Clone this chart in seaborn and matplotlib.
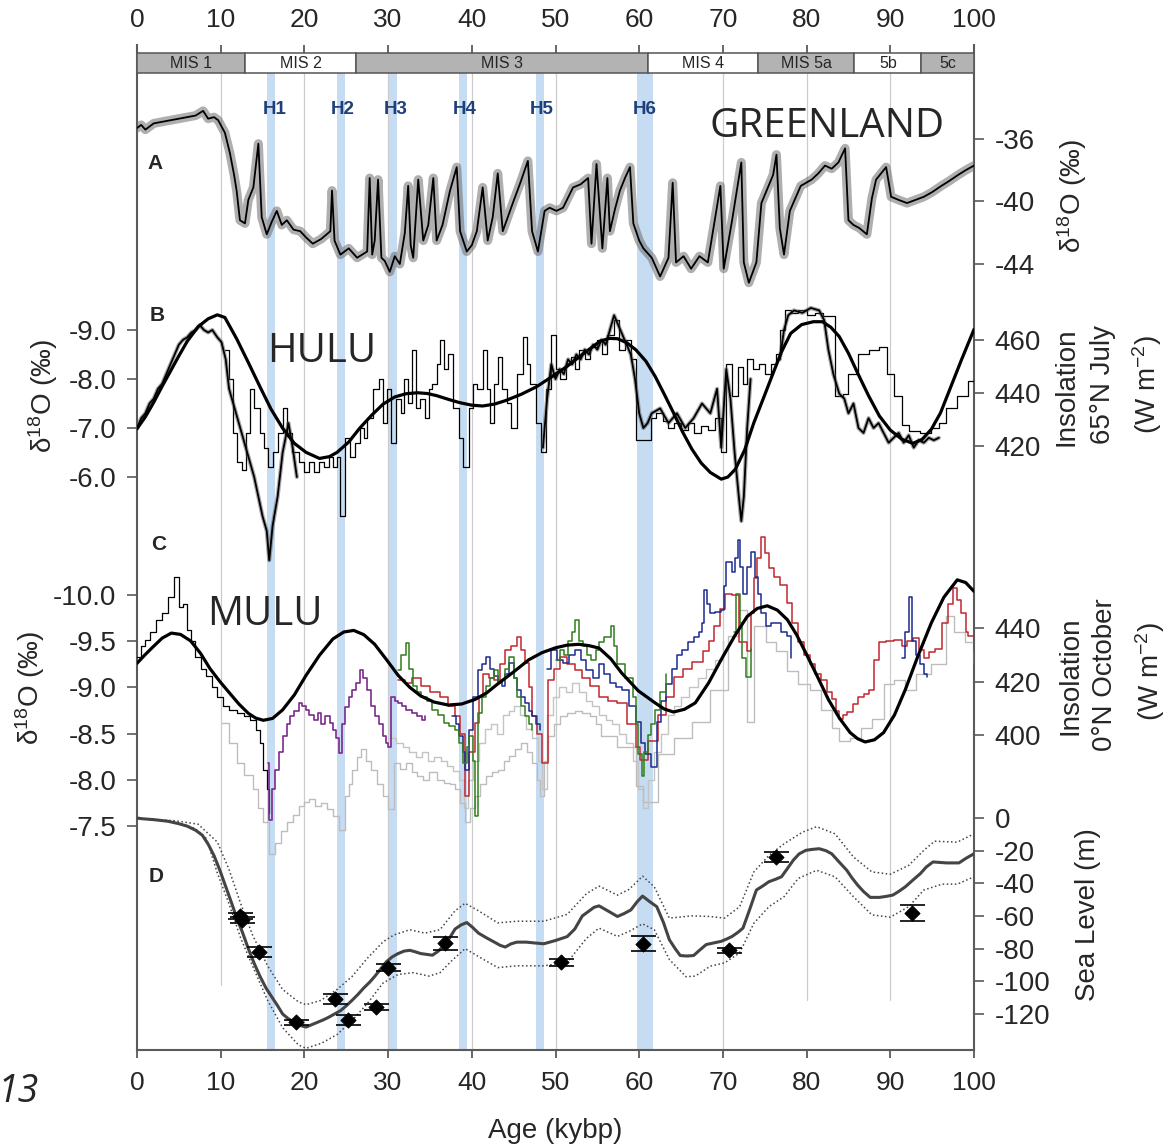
import numpy as np
import matplotlib
matplotlib.use("Agg")
import matplotlib.pyplot as plt
import seaborn as sns

sns.set_style("white")
plt.rcParams['font.family'] = ['Liberation Sans', 'DejaVu Sans']
plt.rcParams['mathtext.default'] = 'regular'

# ---------------- data ----------------
MIS_LABELS = ["MIS 1", "MIS 2", "MIS 3", "MIS 4", "MIS 5a", "5b", "5c"]
MIS_BOUNDS = [0, 12.9, 26.2, 61.0, 74.2, 85.7, 93.7, 100]
MIS_SHADED = [True, False, True, False, True, False, True]

H_LABELS = ["H1", "H2", "H3", "H4", "H5", "H6"]
H_START = [15.5, 23.9, 30.1, 38.5, 47.7, 59.7]
H_END = [16.5, 24.9, 31.1, 39.4, 48.6, 61.6]
H_LABEL_AGE = [16.5, 24.6, 30.9, 39.2, 48.3, 60.6]

AGE_TICKS = list(range(0, 101, 10))

GREENLAND = [(0,-35.3),(0.5,-35.1),(1,-35.4),(2,-35.0),(3,-34.9),(4,-34.8),(5,-34.7),(6,-34.6),(7,-34.5),(7.9,-34.2),
 (8.5,-34.7),(9.2,-34.6),(9.7,-34.8),(10.5,-35.6),(11.1,-36.9),(11.6,-38.3),(11.9,-39.3),(12.3,-41.2),(12.9,-41.4),
 (13.3,-39.9),(13.9,-39.1),(14.5,-36.3),(14.9,-41.0),(15.5,-42.1),(16.1,-41.3),(16.7,-40.6),(17.3,-41.5),(17.9,-41.2),
 (18.7,-41.8),(19.5,-41.9),(20.2,-42.3),(21.0,-42.7),(22.0,-42.4),(23.1,-41.9),(23.3,-39.3),(23.6,-42.5),(24.3,-43.4),
 (25.3,-43.0),(26.3,-43.6),(27.5,-43.2),(27.8,-38.5),(28.1,-43.4),(28.4,-42.5),(28.8,-38.6),(29.2,-43.6),(29.6,-43.8),
 (30.2,-44.5),(30.8,-43.5),(31.4,-44.0),(32.0,-42.0),(32.4,-39.0),(32.7,-42.8),(33.0,-43.6),(33.6,-38.6),(34.2,-42.5),
 (34.8,-41.5),(35.4,-38.5),(35.8,-42.5),(36.5,-41.5),(37.4,-39.3),(38.2,-37.8),(38.6,-41.9),(39.4,-43.2),(40.0,-42.8),
 (40.6,-41.9),(41.3,-39.1),(41.9,-42.5),(42.5,-41.0),(43.1,-38.2),(43.7,-41.9),(44.3,-41.0),(44.9,-40.1),(45.8,-38.8),
 (46.7,-37.4),(47.2,-41.9),(47.9,-43.2),(48.7,-40.6),(49.3,-40.4),(50.1,-40.6),(50.9,-40.4),(52.1,-39.1),(53.0,-38.9),
 (53.9,-38.5),(54.3,-42.7),(54.9,-37.6),(55.6,-43.0),(56.2,-38.5),(56.5,-41.9),(57.1,-40.5),(57.7,-39.3),(58.3,-38.5),
 (58.9,-37.8),(59.3,-41.4),(60.0,-42.5),(60.5,-43.0),(61.5,-43.6),(62.5,-44.8),(63.5,-43.6),(64.0,-38.8),(64.4,-43.9),
 (65.3,-43.5),(66.2,-44.3),(67.2,-43.5),(68.2,-43.9),(69.7,-39.0),(70.1,-44.3),(71.1,-41.2),(72.2,-37.5),(72.5,-43.9),
 (73.1,-45.2),(74.0,-43.9),(74.6,-40.1),(75.3,-39.2),(76.0,-38.3),(76.4,-37.0),(76.8,-41.7),(77.3,-43.4),(78.0,-40.6),
 (79.3,-39.0),(80.6,-38.6),(81.4,-38.2),(82.2,-37.7),(83.0,-37.9),(83.8,-37.5),(84.6,-36.6),(85.0,-41.2),(85.6,-41.5),
 (86.3,-41.7),(87.2,-42.1),(87.8,-39.8),(88.3,-38.6),(89.5,-37.8),(90.1,-39.7),(91.0,-39.9),(92.0,-40.1),(93.0,-39.9),
 (94.0,-39.7),(95.0,-39.4),(96.1,-39.0),(97.0,-38.7),(98.1,-38.3),(99.0,-38.0),(100,-37.7)]

HULU_THICK_1 = [(0,-7.0),(0.5,-7.2),(1,-7.3),(1.5,-7.5),(2,-7.6),(2.5,-7.8),(3,-7.9),(3.5,-8.1),(4,-8.3),(4.5,-8.5),
 (5,-8.7),(5.5,-8.8),(6,-8.85),(6.5,-8.95),(7,-9.0),(7.5,-9.1),(8,-9.0),(8.5,-8.95),(9,-9.0),(9.6,-8.85),(10.1,-8.75),
 (10.6,-8.4),(11,-7.8),(12,-7.2),(13,-6.6),(14,-6.0),(15,-5.2),(15.5,-4.9),(15.8,-4.3),(16.2,-5.0),(16.8,-5.6),
 (17.4,-6.5),(18.1,-7.1),(18.6,-6.6),(19.1,-6.0)]
HULU_THICK_2 = [(48.5,-6.6),(49,-7.6),(49.5,-8.3),(50,-8.0),(50.5,-8.2),(51,-8.1),(51.5,-8.4),(52,-8.3),(52.5,-8.5),
 (53,-8.4),(53.5,-8.6),(54,-8.5),(54.5,-8.7),(55,-8.6),(55.5,-8.8),(56,-8.7),(56.5,-9.0),(57,-9.3),(57.5,-9.1),
 (58,-8.9),(58.5,-8.7),(59,-8.5),(59.5,-8.0),(60,-7.3),(60.5,-7.0),(61,-7.1),(61.5,-7.3),(62.5,-7.4),(63.5,-7.1),
 (64.5,-7.3),(65.5,-7.0),(66.5,-7.2),(67.5,-7.5),(68.5,-7.3),(69.3,-7.8),(69.8,-6.6),(70.4,-8.2),(70.9,-7.6),
 (71.4,-6.5),(71.9,-5.6),(72.2,-5.1),(72.5,-5.6),(72.9,-7.0),(73.3,-8.0)]
HULU_THICK_3 = [(76.8,-8.4),(77.3,-9.0),(77.8,-9.3),(78.5,-9.4),(79.5,-9.35),(80.5,-9.45),(81.5,-9.4),(82.1,-9.2),
 (82.6,-8.6),(83.2,-8.1),(83.9,-7.7),(84.5,-7.6),(85,-7.3),(85.6,-7.5),(86.2,-7.0),(86.8,-6.9),(87.4,-7.2),(88,-7.0),
 (88.6,-7.1),(89.2,-6.9),(89.8,-6.7),(90.4,-6.8),(91,-6.9),(91.6,-6.7),(92.2,-6.85),(92.8,-6.6),(93.4,-6.75),
 (94,-6.7),(94.6,-6.8),(95.2,-6.75),(95.8,-6.8)]
HULU_THIN = [(10.5,-8.6),(11.0,-8.0),(11.5,-6.9),(12.0,-6.3),(12.6,-6.15),(13.0,-6.9),(13.5,-7.8),(14.0,-7.4),
 (14.7,-6.9),(15.2,-6.6),(15.7,-6.2),(16.3,-6.5),(16.8,-6.9),(17.4,-7.4),(17.9,-6.9),(18.5,-6.5),(19.3,-6.3),
 (19.9,-6.1),(20.5,-6.3),(21.1,-6.1),(21.7,-6.3),(22.3,-6.2),(22.9,-6.4),(23.4,-6.2),(23.9,-6.4),(24.3,-5.2),
 (24.8,-6.8),(25.4,-6.4),(26.0,-6.7),(26.6,-7.0),(27.1,-6.8),(27.5,-7.2),(28.2,-7.8),(28.9,-8.0),(29.4,-7.1),
 (29.9,-7.8),(30.3,-6.7),(31.0,-7.6),(31.5,-7.3),(31.9,-8.0),(32.4,-7.5),(32.8,-8.6),(33.3,-7.4),(33.8,-7.6),
 (34.4,-7.2),(34.9,-7.8),(35.3,-7.9),(35.8,-8.3),(36.2,-8.8),(36.7,-8.2),(37.2,-8.5),(37.8,-7.4),(38.5,-6.8),
 (39.0,-6.2),(39.7,-7.4),(40.1,-7.9),(40.6,-7.8),(41.3,-8.6),(41.8,-7.8),(42.2,-7.1),(42.7,-7.9),(43.1,-8.45),
 (43.6,-7.8),(44.2,-7.5),(44.7,-7.0),(45.4,-8.1),(46.1,-8.85),(46.6,-8.3),(47.0,-7.9),(47.7,-7.1),(48.3,-6.5),
 (48.9,-7.8),(49.5,-8.9),(50.0,-8.2),(50.5,-8.0),(51.2,-8.3),(51.8,-8.45),(52.3,-8.2),(52.8,-8.6),(53.5,-8.4),
 (54.1,-8.65),(55.0,-8.8),(55.6,-8.5),(56.2,-8.9),(57.0,-9.2),(57.6,-8.6),(58.3,-8.8),(59.0,-8.4),(59.6,-6.75),
 (61.4,-7.2),(62.0,-7.3),(62.8,-7.15),(63.5,-7.0),(64.2,-7.1),(65.0,-6.95),(65.8,-7.1),(66.6,-6.9),(67.4,-7.05),
 (68.2,-6.95),(69.0,-7.2),(69.8,-6.5),(70.4,-8.3),(71.1,-7.65),(71.8,-8.25),(72.4,-7.9),(72.9,-8.4),(73.6,-8.2),
 (74.3,-8.3),(75.0,-8.1),(75.7,-8.3),(76.4,-8.5),(76.8,-9.0),(77.4,-9.4),(78.1,-9.35),(79.0,-9.4),(80.0,-9.3),
 (81.0,-9.35),(82.0,-9.28),(83.4,-7.66),(84.3,-7.7),(85.0,-8.1),(86.1,-8.5),(87.4,-8.6),(88.7,-8.66),(89.6,-8.1),
 (90.5,-7.66),(91.4,-7.07),(92.2,-6.94),(93.5,-6.9),(94.9,-7.0),(95.8,-7.1),(96.7,-7.4),(98.0,-7.66),(99.3,-7.95),
 (100.0,-7.95)]

INSOL_65N_JULY = [(0,426.5),(1,431),(2,436.5),(3,442.5),(4.1,448.8),(5,454),(6,459.5),(7.3,465),(8.5,468),(9.6,469.5),
 (10.5,468.5),(11.9,460.5),(13.3,451.5),(14.7,442.3),(16,434),(17.4,426.7),(18.8,421),(20.2,417.6),(21.8,415.3),
 (23,416),(23.9,417.6),(25.3,421.5),(26.6,426.7),(28,431.5),(29.4,435.8),(30.8,438.5),(32.1,439.7),(33.5,440.1),
 (34.7,439.8),(35.8,439),(37.2,437.6),(38.5,436.4),(40,435.4),(41.3,435.1),(42.7,435.8),(44,437.1),(45.9,439.5),
 (47.7,442.3),(49.5,446),(51.4,450.1),(53.4,455),(55.3,459.5),(56.4,460.6),(57.4,460.5),(58.5,459),(59.6,456.3),
 (60.8,452),(61.9,446.3),(63,439.5),(64.1,432.5),(65.2,425.2),(66.3,418.8),(67.4,413.6),(68.5,410),(69.8,407.5),
 (70.6,408.3),(71.5,411.3),(72.6,418.5),(73.7,428.8),(74.9,438.5),(76,447.5),(77,455.5),(78.1,462.5),(79.4,465.8),
 (80.8,466.9),(81.9,466.9),(82.9,464.8),(83.9,461.3),(85,455),(86.1,447.5),(87.4,439),(88.7,431.3),(90,426),
 (91.4,422.5),(92.7,421),(93.8,422.5),(94.9,426.3),(96,432.5),(97.1,441.3),(98.5,452.5),(100,464)]

MULU_BLACK = [(0,-9.33),(0.5,-9.45),(0.9,-9.51),(1.5,-9.6),(2.3,-9.73),(3.0,-9.8),(3.7,-9.98),(4.4,-10.2),(5.0,-9.87),
 (5.5,-9.9),(6.0,-9.62),(6.5,-9.5),(6.9,-9.33),(7.6,-9.2),(8.3,-9.12),(9.0,-9.0),(9.6,-8.9),(10.3,-8.8),(11.0,-8.76),
 (11.9,-8.72),(12.8,-8.69),(13.5,-8.65),(14.2,-8.54),(14.7,-8.4),(15.1,-8.11),(15.5,-7.9),(15.8,-7.64)]
MULU_PURPLE = [(15.6,-8.18),(15.8,-7.57),(16.1,-7.9),(16.5,-8.11),(17.0,-8.3),(17.4,-8.47),(17.9,-8.6),(18.3,-8.69),
 (18.8,-8.75),(19.3,-8.83),(19.7,-8.8),(20.2,-8.76),(20.6,-8.7),(21.1,-8.65),(21.6,-8.72),(22.0,-8.6),(22.5,-8.69),
 (23.0,-8.62),(23.4,-8.54),(23.8,-8.45),(24.1,-8.29),(24.5,-8.6),(24.8,-8.79),(25.3,-8.9),(25.7,-8.97),(26.2,-9.05),
 (26.6,-9.19),(27.0,-9.1),(27.5,-8.97),(28.0,-8.8),(28.4,-8.69),(28.9,-8.6),(29.4,-8.47),(29.8,-8.4),(30.0,-8.36),
 (30.3,-8.9),(30.8,-8.85),(31.2,-8.83),(31.7,-8.8),(32.1,-8.76),(32.8,-8.72),(33.5,-8.69),(34.0,-8.65),(34.4,-8.69)]
MULU_GREEN_1 = [(31.2,-9.19),(31.6,-9.35),(32.1,-9.48),(32.5,-9.2),(33.0,-9.01),(33.5,-8.95),(33.9,-8.9),(34.6,-8.85),
 (35.3,-8.76),(36.0,-8.7),(36.7,-8.62),(37.3,-8.58),(38.0,-8.54),(38.5,-8.4),(39.0,-8.18),(39.4,-8.35),(39.7,-8.47),
 (40.1,-8.2),(40.4,-7.61),(40.8,-8.72),(41.2,-8.9),(41.7,-9.01),(42.2,-9.1),(42.7,-9.19),(43.1,-9.05),(43.6,-9.08),
 (44.0,-9.2),(44.5,-9.33),(45.0,-9.1),(45.4,-8.9),(45.9,-8.8),(46.3,-8.69),(46.8,-8.6),(47.2,-8.54)]
MULU_GREEN_2 = [(50.0,-9.3),(50.5,-9.4),(51.0,-9.35),(51.5,-9.5),(52.0,-9.6),(52.3,-9.73),(52.8,-9.5),(53.3,-9.45),
 (53.8,-9.35),(54.3,-9.3),(54.8,-9.4),(55.2,-9.49),(55.8,-9.55),(56.6,-9.66),(57.0,-9.45),(57.4,-9.25),(58.3,-9.1),
 (59.2,-8.9),(59.6,-8.6),(59.9,-8.28),(60.3,-8.04),(60.6,-8.3),(61.0,-8.49),(61.4,-8.6),(61.9,-8.76),(62.5,-8.95),
 (63.2,-9.15)]
MULU_GREEN_3 = [(71.3,-9.6),(71.6,-10.01),(72.0,-9.7),(72.3,-9.32),(72.8,-9.11),(73.3,-9.42)]
MULU_BLUE_1 = [(37.6,-8.69),(38.1,-8.6),(38.5,-8.47),(38.9,-8.3),(39.2,-8.11),(39.7,-8.54),(40.2,-8.9),(40.8,-9.19),
 (41.2,-9.25),(41.7,-9.33),(42.2,-9.2),(42.7,-9.12),(43.1,-9.05),(43.6,-9.01),(44.0,-9.15),(44.5,-9.26),(45.0,-9.1),
 (45.4,-8.97),(45.9,-8.9),(46.3,-8.83),(46.8,-8.75),(47.2,-8.69),(47.7,-8.6),(48.2,-8.54)]
MULU_BLUE_2 = [(49.0,-9.2),(49.5,-9.41),(50.2,-9.3),(50.9,-9.26),(51.6,-9.35),(52.3,-9.41),(53.0,-9.3),(53.7,-9.19),
 (54.5,-9.1),(55.2,-9.25),(55.8,-9.15),(56.5,-9.05),(57.2,-9.0),(57.9,-8.97),(58.8,-8.8),(59.6,-8.63),(60.2,-8.4),
 (60.7,-8.28),(61.4,-8.14),(62.1,-8.63),(62.6,-8.85),(63.2,-9.04),(63.9,-9.2),(64.5,-9.35),(65.1,-9.4),(65.8,-9.49),
 (66.5,-9.55),(67.1,-9.6),(67.5,-9.7),(67.8,-10.05),(68.1,-9.9),(68.5,-9.8),(69.1,-9.82),(69.8,-9.84),(70.1,-10.1),
 (70.4,-10.36),(71.1,-10.25),(71.5,-10.4),(71.8,-10.6),(72.1,-10.3),(72.4,-10.01),(72.9,-10.3),(73.3,-10.46),
 (73.8,-10.2),(74.2,-10.01),(74.6,-9.8),(75.1,-9.66),(75.7,-9.7),(76.4,-9.7),(77.0,-9.6),(77.7,-9.56),(78.1,-9.32)]
MULU_BLUE_3 = [(91.4,-9.32),(91.8,-9.6),(92.2,-9.98),(92.6,-9.5),(93.1,-9.35),(93.5,-9.25),(94.0,-9.15),(94.4,-9.11)]
MULU_RED = [(31.2,-9.08),(32.0,-9.05),(32.8,-9.1),(33.9,-9.01),(35.0,-8.95),(36.2,-8.9),(37.2,-8.8),(38.0,-8.69),
 (38.6,-8.5),(39.2,-7.82),(39.7,-8.3),(40.4,-8.62),(40.9,-8.9),(41.3,-9.15),(42.0,-9.1),(42.7,-9.08),(43.4,-9.25),
 (44.0,-9.41),(44.7,-9.45),(45.4,-9.55),(45.9,-9.4),(46.3,-9.26),(46.8,-9.0),(47.2,-8.69),(47.8,-8.5),(48.4,-8.18),
 (49.1,-9.08),(49.8,-9.2),(50.5,-9.33),(51.4,-9.25),(52.3,-9.19),(53.2,-9.1),(54.1,-9.01),(55.2,-8.9),(56.3,-8.85),
 (57.4,-8.83),(58.5,-8.6),(59.6,-8.35),(60.1,-8.21),(61.0,-8.42),(62.3,-8.7),(63.2,-8.9),(64.1,-9.11),(65.2,-9.2),
 (66.3,-9.28),(67.6,-9.39),(68.3,-9.5),(68.9,-9.66),(69.6,-9.85),(70.2,-10.01),(71.1,-10.0),(71.9,-9.49),(72.9,-9.39),
 (73.3,-9.8),(73.7,-10.18),(74.1,-10.4),(74.5,-10.63),(75.0,-10.45),(75.5,-10.29),(76.1,-10.2),(76.8,-10.11),
 (77.7,-9.91),(78.3,-9.7),(79.0,-9.49),(79.7,-9.35),(80.4,-9.25),(81.0,-9.15),(81.7,-9.08),(82.4,-8.95),(83.0,-8.87),
 (83.5,-8.75),(83.9,-8.66),(84.4,-8.7),(84.8,-8.73),(85.5,-8.82),(86.1,-8.9),(86.8,-8.93),(87.4,-8.97),(88.0,-9.3),
 (88.7,-9.49),(89.5,-9.5),(90.5,-9.51),(91.4,-9.45),(92.0,-9.5),(92.7,-9.53),(93.4,-9.4),(94.0,-9.32),(94.6,-9.38),
 (95.3,-9.42),(96.2,-9.7),(96.9,-9.9),(97.5,-10.08),(98.0,-9.95),(98.4,-9.8),(99.0,-9.6),(99.3,-9.56),(100.0,-9.39)]
MULU_GRAY_1 = [(10.1,-8.62),(11.0,-8.4),(11.9,-8.18),(12.8,-8.05),(13.8,-7.9),(14.5,-7.7),(15.1,-7.54),(15.8,-7.2),
 (16.5,-7.32),(17.2,-7.45),(17.9,-7.54),(18.6,-7.62),(19.3,-7.72),(20.0,-7.76),(20.6,-7.79),(21.3,-7.72),(22.0,-7.75),
 (22.7,-7.68),(23.4,-7.61),(24.1,-7.46),(24.8,-7.82),(25.3,-7.95),(25.7,-8.11),(26.3,-8.25),(26.8,-8.33),(27.4,-8.2),
 (28.0,-8.11),(28.7,-7.95),(29.4,-7.82),(30.0,-7.68),(30.7,-8.18),(31.4,-8.12),(32.1,-8.18),(32.8,-8.08),(33.5,-8.04),
 (34.2,-8.0),(34.9,-8.08),(35.8,-8.0),(36.7,-7.97),(37.4,-7.95),(38.0,-7.9),(38.6,-7.75),(39.2,-7.54),(39.8,-7.7),
 (40.4,-7.82),(41.0,-7.95),(41.7,-8.04),(42.4,-8.08),(43.1,-8.11),(43.8,-8.2),(44.5,-8.26),(45.2,-8.33),(45.9,-8.4),
 (46.6,-8.3),(47.2,-8.18),(47.8,-8.0),(48.2,-7.82),(48.6,-8.2),(49.1,-8.47),(49.8,-8.6),(50.5,-8.69),(51.4,-8.72),
 (52.3,-8.75),(53.2,-8.72),(54.1,-8.69),(54.8,-8.6),(55.4,-8.47),(57.4,-8.35),(59.6,-7.93),(60.5,-7.76),(62.3,-8.28),
 (64.1,-8.45),(66.3,-8.63),(68.5,-8.97),(70.6,-9.56),(71.9,-9.84),(72.9,-8.63),(73.7,-9.66),(75.1,-9.49),(76.4,-9.39),
 (77.7,-9.18),(79.0,-9.04),(80.4,-8.97),(81.7,-8.76),(83.0,-8.56),(83.9,-8.42),(85.2,-8.45),(86.5,-8.56),(87.8,-8.66),
 (89.2,-9.04),(90.5,-9.08),(91.8,-8.97),(93.1,-9.15),(94.9,-9.25),(96.7,-9.77),(97.6,-9.6),(98.9,-9.49),(100,-9.25)]
MULU_GRAY_2 = [(30.3,-8.45),(31.0,-8.4),(31.8,-8.35),(32.5,-8.3),(33.3,-8.25),(34.0,-8.3),(34.8,-8.2),(35.5,-8.25),
 (36.3,-8.2),(37.0,-8.15),(37.8,-8.1),(38.5,-8.0),(39.1,-7.7),(39.6,-8.0),(40.2,-8.2),(40.9,-8.4),(41.6,-8.55),
 (42.3,-8.6),(43.0,-8.5),(43.7,-8.7),(44.4,-8.75),(45.1,-8.8),(45.8,-8.7),(46.5,-8.55),(47.2,-8.45),(47.9,-8.2),
 (48.4,-7.9),(49.0,-8.7),(49.7,-8.9),(50.4,-9.0),(51.2,-8.95),(52.0,-9.05),(52.8,-8.95),(53.6,-8.85),(54.4,-8.8),
 (55.2,-8.7),(56.0,-8.65),(56.8,-8.6),(57.6,-8.5),(58.4,-8.4),(59.2,-8.2),(59.8,-7.9),(60.4,-7.7),(61.0,-8.0),
 (61.8,-8.3),(62.6,-8.5),(63.4,-8.7),(64.2,-8.8),(65.0,-8.9),(66.0,-9.0),(67.0,-9.1),(68.0,-9.2),(69.0,-9.3),(70.0,-9.5)]

INSOL_0N_OCT = [(0,426.8),(0.9,429.8),(1.8,432.6),(3,436.2),(4.1,438.1),(5.2,437.6),(6.4,435.2),(7.6,430.5),
 (8.7,424.9),(9.9,420),(11,415.9),(12.2,411.5),(13.3,408.1),(14.2,406.3),(15.1,405.5),(16.2,406.2),(17.4,409.4),
 (18.8,415),(20.2,422.3),(21.8,429.8),(23.4,435.9),(24.7,438.5),(25.9,439.1),(27.1,437.5),(28.4,433.9),(29.8,428.2),
 (31.2,422.3),(32.6,417.8),(33.9,414.6),(35.5,412.3),(37.2,411.2),(38.8,411.6),(40.4,413.3),(41.8,415.8),(43.1,419.1),
 (45,423.6),(46.8,428.1),(48.4,430.8),(50,432.6),(51.4,433.6),(52.8,433.9),(54,433.4),(55.2,432.5),(56.6,428.5),
 (57.9,423.2),(59.9,416.5),(61.9,412),(63,409.7),(64.1,408.6),(65.4,409.6),(66.7,412),(68.3,419.5),(69.8,428.2),
 (71.4,437),(72.9,444.3),(74.1,447.3),(75.3,448.3),(76.5,446.7),(77.7,443.1),(78.8,437.5),(79.9,430.7),(81.3,421.8),
 (82.6,413.3),(83.9,406.4),(85.2,400.9),(86.1,398.6),(87,397.4),(88.1,398.2),(89.2,400.9),(90.5,407.5),(91.8,417),
 (93.3,429.5),(94.9,441.9),(96.4,451.5),(98,458),(99,457),(100,453.7)]

SEA_LEVEL = [(0,0),(0.5,-0.4),(2,-1),(3.7,-2),(5,-3.5),(6,-5),(7,-7.5),(7.8,-10.5),(8.5,-16),(9.2,-23),(9.9,-32),
 (10.6,-42),(11.3,-52),(11.9,-61),(12.6,-70),(13.3,-80),(14.0,-89),(14.7,-97),(15.4,-104),(16.1,-109.5),(16.8,-115),
 (17.4,-120),(18.1,-123),(18.8,-125),(19.5,-127),(20.2,-128),(20.9,-126.5),(21.6,-125),(22.3,-123.5),(22.9,-122),
 (23.6,-120),(24.3,-118),(25.0,-115),(25.7,-111.6),(26.4,-108),(27.1,-104),(27.8,-100.5),(28.4,-97),(29.1,-92.5),
 (29.8,-88),(30.5,-85),(31.2,-83),(31.9,-81.5),(32.6,-81),(33.3,-82),(33.9,-83),(34.6,-83.5),(35.3,-84),(36.0,-81.5),
 (36.7,-78),(37.4,-73),(38.0,-68),(38.7,-65.5),(39.4,-64),(40.1,-67),(40.8,-70.5),(41.8,-73.5),(42.7,-76),(43.4,-78),
 (44.0,-79),(44.7,-77),(45.4,-76),(46.5,-76),(47.5,-76.5),(48.6,-77),(50.0,-75),(51.4,-72.6),(52.3,-68),(53.2,-60),
 (54.6,-54.7),(55.2,-53.8),(56.3,-57),(57.4,-60.3),(58.2,-58.5),(59.0,-56.3),(59.8,-51),(60.4,-47.8),(61.2,-51),
 (62.1,-54.3),(62.9,-64),(63.6,-74.5),(64.3,-80),(64.9,-84.2),(65.7,-84.5),(66.5,-84.2),(67.2,-81),(68.0,-77.5),
 (68.9,-76.5),(69.8,-75.5),(70.5,-74),(71.1,-72.5),(71.8,-70),(72.4,-67.4),(73.2,-56),(74.0,-44.1),(74.8,-41.5),
 (75.5,-39),(76.3,-37.5),(77.0,-36),(77.7,-31),(78.4,-25.9),(79.1,-22),(79.9,-19.8),(80.7,-19.2),(81.5,-18.8),
 (82.3,-20),(83.0,-21.9),(83.9,-27),(84.8,-32),(85.4,-36.5),(86.1,-41.1),(86.8,-45),(87.6,-48.6),(88.7,-48.6),
 (89.5,-48),(90.3,-47.2),(91.0,-45),(91.8,-42.1),(92.7,-38),(93.6,-34),(94.3,-30),(95.1,-26.9),(96.7,-27.5),
 (98.2,-27.5),(99.1,-24.5),(100,-21.9)]
SEA_LEVEL_UPPER = [(0,0),(0.5,-0.4),(4.6,-1.7),(7.3,-3.8),(9.6,-14.7),(11,-31.6),(12.4,-52.6),(13.8,-71.6),(15.6,-90.5),
 (17.4,-105),(19.3,-112.6),(20.2,-114.3),(22,-111.6),(23.9,-105),(25.7,-97),(27.5,-86),(29.4,-75.8),(30.7,-71.6),
 (32.6,-68.4),(34.4,-70.5),(36.2,-68.4),(38,-56.8),(39.2,-52.2),(40.8,-56.8),(43.1,-64.2),(45.4,-63.2),(48.6,-63.2),
 (51.4,-59),(53.7,-46.3),(55.2,-41.7),(57.4,-47.2),(58.8,-43.7),(60.4,-35.6),(61.8,-42.1),(63.6,-61.3),(66.3,-59.9),
 (68.5,-60.3),(70.2,-61.3),(72,-54.3),(73.7,-33),(75.5,-22.9),(77.3,-15.8),(79.5,-8.7),(81.2,-5.3),(83.4,-9.7),
 (85.6,-23.9),(87.8,-33),(90,-34.4),(92.2,-29),(94,-19.8),(95.3,-14.2),(98,-14.8),(100,-9.7)]
SEA_LEVEL_LOWER = [(0,0),(0.5,-0.4),(4.6,-2.5),(6.9,-6.3),(8.3,-12.6),(9.6,-33.7),(11,-52.6),(12.4,-73.7),(13.8,-90.5),
 (15.6,-111.6),(17.4,-128.4),(19.3,-139),(20.2,-141),(22,-138),(23.9,-132.6),(25.7,-124),(27.5,-113.7),(29.4,-101),
 (31.2,-95.8),(33,-94.7),(34.9,-96.8),(36.2,-94.7),(37.6,-87.4),(39.2,-80),(41.3,-86.3),(43.1,-91.6),(45.4,-90.5),
 (48.6,-90.5),(51.4,-88.4),(53.7,-73.7),(55.2,-67.4),(57.4,-72.5),(58.8,-69.4),(60.4,-64.8),(61.8,-68.4),(63.6,-86.6),
 (65.6,-97.2),(66.7,-96.8),(68.5,-90.7),(70.2,-88.7),(72,-82.6),(73.7,-64.4),(75.5,-54.3),(77.3,-48.2),(79,-37),
 (81.2,-32),(83.4,-36),(85.6,-48.2),(87.8,-59.3),(90,-60.7),(92.2,-54.3),(94,-44.1),(96.2,-40.5),(98,-40.5),(100,-36)]

SL_POINT_AGE = [12.3, 12.5, 14.6, 19.0, 23.6, 25.2, 28.5, 30.0, 36.8, 50.6, 60.5, 70.7, 76.3, 92.6]
SL_POINT_LEVEL = [-60, -62.5, -82, -125, -111, -123.6, -115.8, -91.6, -76.8, -88.4, -77, -81, -24, -58.3]
SL_POINT_ERR = [2, 2, 3, 1.5, 3, 3, 2, 2, 4, 2, 4.5, 1.5, 3, 5]

# ---------------- layout ----------------
W, H = 1176, 1147
L, R, T, B = 137, 974, 45, 1050
fig = plt.figure(figsize=(W / 100, H / 100), dpi=100)
rect = [L / W, 1 - B / H, (R - L) / W, (B - T) / H]


def frac(ypix):
    return (B - ypix) / (B - T)


def lims(v1, y1, v2, y2):
    m = (v2 - v1) / (y2 - y1)
    return v1 + (B - y1) * m, v1 + (T - y1) * m


def split(pairs):
    a = np.array(pairs, dtype=float)
    return a[:, 0], a[:, 1]


def line(a, pairs, color, lw, steps=False, ls='-', alpha=1.0, z=2):
    x, y = split(pairs)
    kw = dict(drawstyle='steps-post') if steps else {}
    sns.lineplot(x=x, y=y, ax=a, color=color, linewidth=lw, linestyle=ls, alpha=alpha,
                 estimator=None, sort=False, legend=False, zorder=z, **kw)


XTICK_FS = 19
YTICK_FS = 20
SPINE_C = '#5a5a5a'

# frame axes
ax = fig.add_axes(rect)
ax.set_xlim(0, 100)
ax.set_ylim(0, 1)
ax.set_yticks([])
for s in ['left', 'right', 'bottom']:
    ax.spines[s].set_visible(True)
    ax.spines[s].set_color(SPINE_C)
    ax.spines[s].set_linewidth(1.5)
ax.spines['top'].set_visible(False)
ax.set_xticks(AGE_TICKS)
ax.tick_params(axis='x', bottom=True, direction='out', length=6, width=1.3, color=SPINE_C,
               labelsize=XTICK_FS, pad=9)
sec = ax.secondary_xaxis('top')
sec.set_xticks(AGE_TICKS)
sec.spines['top'].set_visible(False)
sec.tick_params(axis='x', top=True, direction='in', length=6, width=1.3, color=SPINE_C,
                labelsize=XTICK_FS, pad=9)

mis_lo, mis_hi = frac(73), frac(53)
starts = MIS_BOUNDS[:-1]
widths = [e - s for s, e in zip(MIS_BOUNDS[:-1], MIS_BOUNDS[1:])]
ax.bar(starts, mis_hi - mis_lo, width=widths, bottom=mis_lo, align='edge',
       color=['#b3b3b3' if g else 'white' for g in MIS_SHADED], edgecolor='#555555', linewidth=1.1, zorder=3)
for s, w, lab in zip(starts, widths, MIS_LABELS):
    ax.text(s + w / 2, (mis_lo + mis_hi) / 2, lab, ha='center', va='center', fontsize=11.5, zorder=4)

grid_bottom = {10: frac(985), 80: frac(1000), 90: frac(1000)}
for gx in AGE_TICKS[1:-1]:
    ax.axvline(gx, ymin=grid_bottom.get(gx, 0), ymax=mis_lo, color='#cccccc', lw=0.9, zorder=0.5)

for hs, he, hx, hl in zip(H_START, H_END, H_LABEL_AGE, H_LABELS):
    ax.axvspan(hs, he, ymin=0, ymax=mis_lo, color='#c5dcf3', lw=0, zorder=0.6)
    ax.text(hx, frac(110), hl, ha='center', va='center', fontsize=13.5,
            fontweight='bold', color='#1f3f7a', zorder=4)


def panel(side):
    a = fig.add_axes(rect)
    a.patch.set_visible(False)
    for s in a.spines.values():
        s.set_visible(False)
    a.set_xticks([])
    a.tick_params(axis='y', left=(side == 'left'), right=(side == 'right'),
                  labelleft=(side == 'left'), labelright=(side == 'right'),
                  direction='out', length=7, width=1.2, color=SPINE_C, labelsize=YTICK_FS, pad=8)
    return a


# A: Greenland
axA = panel('right')
line(axA, GREENLAND, '#6e6e6e', 6.5, alpha=0.55)
line(axA, GREENLAND, 'black', 1.3)
axA.set_yticks([-36, -40, -44])
axA.set_yticklabels(['-36', '-40', '-44'])
axA.set_ylim(*lims(-36, 139, -44, 264))

# B: Hulu
axB = panel('left')
line(axB, HULU_THIN, 'black', 0.9, steps=True)
for seg in (HULU_THICK_1, HULU_THICK_2, HULU_THICK_3):
    line(axB, seg, '#555555', 3.0, alpha=0.5)
    line(axB, seg, 'black', 1.3)
axB.set_yticks([-9, -8, -7, -6])
axB.set_yticklabels(['-9.0', '-8.0', '-7.0', '-6.0'])
axB.set_ylim(*lims(-9, 330, -6, 477))

axBi = panel('right')
line(axBi, INSOL_65N_JULY, 'black', 2.3)
axBi.set_yticks([420, 440, 460])
axBi.set_yticklabels(['420', '440', '460'])
axBi.set_ylim(*lims(460, 340, 420, 446))

# C: Mulu
axC = panel('left')
line(axC, MULU_GRAY_2, '#c4c4c4', 1.0, steps=True)
line(axC, MULU_GRAY_1, '#bdbdbd', 1.0, steps=True)
line(axC, MULU_BLACK, 'black', 0.9, steps=True)
line(axC, MULU_PURPLE, '#7b2a8c', 1.2, steps=True)
line(axC, MULU_RED, '#c1272d', 1.1, steps=True)
for seg in (MULU_BLUE_1, MULU_BLUE_2, MULU_BLUE_3):
    line(axC, seg, '#1b2a8f', 1.1, steps=True)
for seg in (MULU_GREEN_1, MULU_GREEN_2, MULU_GREEN_3):
    line(axC, seg, '#2f7d1c', 1.1, steps=True)
axC.set_yticks([-10, -9.5, -9, -8.5, -8, -7.5])
axC.set_yticklabels(['-10.0', '-9.5', '-9.0', '-8.5', '-8.0', '-7.5'])
axC.set_ylim(*lims(-10, 595, -7.5, 826))

axCi = panel('right')
line(axCi, INSOL_0N_OCT, 'black', 2.3)
axCi.set_yticks([400, 420, 440])
axCi.set_yticklabels(['400', '420', '440'])
axCi.set_ylim(*lims(440, 628, 400, 735))

# D: sea level
axD = panel('right')
line(axD, SEA_LEVEL_UPPER, '#444444', 1.1, ls=':')
line(axD, SEA_LEVEL_LOWER, '#444444', 1.1, ls=':')
line(axD, SEA_LEVEL, '#444444', 2.2)
axD.errorbar(SL_POINT_AGE, SL_POINT_LEVEL, yerr=SL_POINT_ERR, fmt='none', ecolor='black',
             elinewidth=1.0, capsize=9, capthick=1.2, zorder=3)
sns.scatterplot(x=SL_POINT_AGE, y=SL_POINT_LEVEL, ax=axD, marker='D', s=60, color='black',
                edgecolor='black', legend=False, zorder=4)
axD.set_yticks([0, -20, -40, -60, -80, -100, -120])
axD.set_yticklabels(['0', '-20', '-40', '-60', '-80', '-100', '-120'])
axD.set_ylim(*lims(0, 818, -120, 1014))

for a in (axA, axB, axBi, axC, axCi, axD):
    a.set_xlim(0, 100)
    a.set_xlabel('')
    a.set_ylabel('')

# ---------------- texts ----------------
def ftext(x, y, s, **kw):
    fig.text(x / W, 1 - y / H, s, **kw)


BIG = dict(fontsize=29, family=['Open Sans', 'DejaVu Sans'], va='center')
ftext(710, 127, 'GREENLAND', ha='left', **BIG)
ftext(267, 352, 'HULU', ha='left', **BIG)
ftext(207, 615, 'MULU', ha='left', **BIG)

for lab, (px, py) in zip('ABCD', [(155, 163), (157, 316), (159, 545), (156, 876)]):
    ftext(px, py, lab, ha='center', va='center', fontsize=15, fontweight='bold')

ylab = r'$\delta^{18}$O (‰)'
ftext(1072, 196, ylab, rotation=90, ha='center', va='center', fontsize=20)
ftext(43, 396, ylab, rotation=90, ha='center', va='center', fontsize=20)
ftext(30, 688, ylab, rotation=90, ha='center', va='center', fontsize=20)

ftext(1066, 387, 'Insolation', rotation=90, ha='center', va='center', fontsize=20)
ftext(1103, 385, '65°N July', rotation=90, ha='center', va='center', fontsize=20)
ftext(1147, 384, r'(W m$^{-2}$)', rotation=90, ha='center', va='center', fontsize=20)

ftext(1071, 676, 'Insolation', rotation=90, ha='center', va='center', fontsize=20)
ftext(1105, 675, '0°N October', rotation=90, ha='center', va='center', fontsize=20)
ftext(1150, 671, r'(W m$^{-2}$)', rotation=90, ha='center', va='center', fontsize=20)

ftext(1088, 915, 'Sea Level (m)', rotation=90, ha='center', va='center', fontsize=20)
ftext(555, 1131, 'Age (kybp)', ha='center', va='center', fontsize=20)
ftext(-2, 1092, '13', ha='left', va='center', fontsize=27, fontstyle='italic',
      family=['Open Sans', 'DejaVu Sans'])

fig.savefig('out.png', dpi=100)
